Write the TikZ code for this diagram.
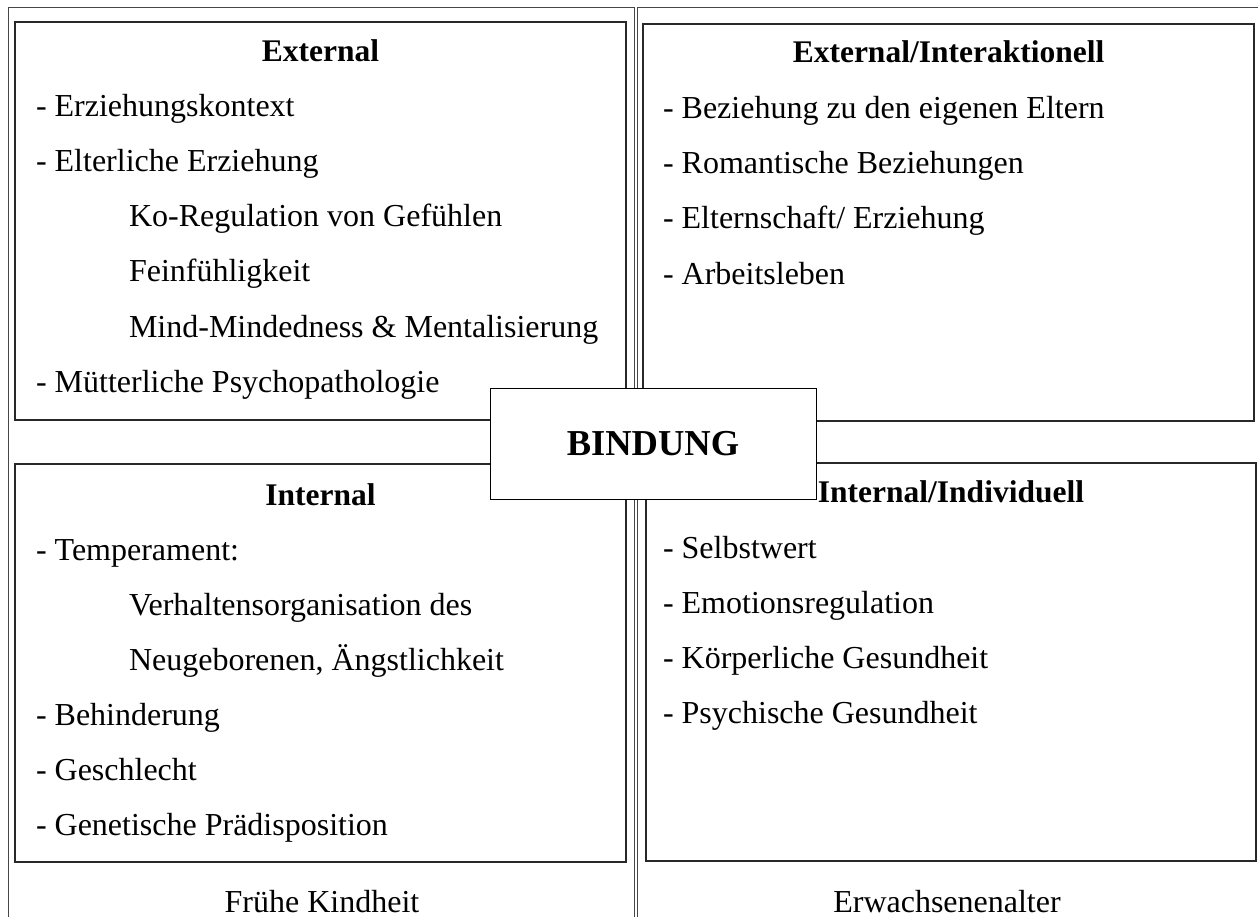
\documentclass[tikz,border=0pt]{standalone}
\usepackage{fontspec}
\setmainfont{Liberation Serif}
\usepackage{xcolor}
\usetikzlibrary{positioning}
\definecolor{bdframe}{RGB}{70,70,70}
\definecolor{bdline}{RGB}{40,40,40}

\begin{document}
\begin{tikzpicture}[
  x=1pt, y=-1pt,
  every node/.style={inner sep=0pt, outer sep=0pt},
  cell/.style={draw=bdframe, line width=1pt},
  panel/.style={draw=bdline, line width=1.4pt, rectangle, anchor=north west,
    minimum width=611pt, minimum height=398pt},
  head/.style={font=\fontsize{31.5}{36}\selectfont\bfseries, anchor=base},
  item/.style={font=\fontsize{32}{36}\selectfont, anchor=base west},
  sub/.style={item},
  foot/.style={font=\fontsize{32}{36}\selectfont, anchor=base},
  core/.style={draw=black, line width=1pt, fill=white, rectangle,
    minimum width=326pt, minimum height=111pt,
    font=\fontsize{36.5}{40}\selectfont\bfseries}
]
  \useasboundingbox (0,0) rectangle (1258,917);
  \clip (0,0) rectangle (1258,917);

  % table cells
  \draw[cell] (8,930) -- (8,8) -- (634,8) -- (634,930);
  \draw[cell] (637,930) -- (637,8) -- (1270,8);

  % early childhood
  \node[panel] (ext) at (15,22) {};
  \node[head] (exthead) at (320.5,62) {External};
  \node[item] (ext1) at (36,117) {- Erziehungskontext};
  \node[item] (ext2) at (36,172) {- Elterliche Erziehung};
  \node[sub] (ext2a) at (129,227) {Ko-Regulation von Gefühlen};
  \node[sub] (ext2b) at (129,282) {Feinfühligkeit};
  \node[sub] (ext2c) at (129,337) {Mind-Mindedness \& Mentalisierung};
  \node[item] (ext3) at (36,392) {- Mütterliche Psychopathologie};

  \node[panel] (int) at (15,464) {};
  \node[head] (inthead) at (320.5,505) {Internal};
  \node[item] (int1) at (36,560) {- Temperament:};
  \node[sub] (int1a) at (129,615) {Verhaltensorganisation des};
  \node[sub] (int1b) at (129,670) {Neugeborenen, Ängstlichkeit};
  \node[item] (int2) at (36,725) {- Behinderung};
  \node[item] (int3) at (36,780) {- Geschlecht};
  \node[item] (int4) at (36,835) {- Genetische Prädisposition};

  \node[foot] (early) at (322,912) {Frühe Kindheit};

  % adulthood
  \node[panel, minimum height=397pt] (extia) at (643,24) {};
  \node[head] (extiahead) at (948.5,63) {External/Interaktionell};
  \node[item] (extia1) at (663,119) {- Beziehung zu den eigenen Eltern};
  \node[item] (extia2) at (663,174) {- Romantische Beziehungen};
  \node[item] (extia3) at (663,229) {- Elternschaft/ Erziehung};
  \node[item] (extia4) at (663,284) {- Arbeitsleben};

  \node[panel, minimum width=610pt] (intind) at (646,463) {};
  \node[head] (intindhead) at (951,502) {Internal/Individuell};
  \node[item] (intind1) at (663,558) {- Selbstwert};
  \node[item] (intind2) at (663,613) {- Emotionsregulation};
  \node[item] (intind3) at (663,668) {- Körperliche Gesundheit};
  \node[item] (intind4) at (663,723) {- Psychische Gesundheit};

  \node[foot] (adult) at (947,912) {Erwachsenenalter};

  % centre
  \node[core] (bindung) at (653,443.5) {BINDUNG};
\end{tikzpicture}
\end{document}
